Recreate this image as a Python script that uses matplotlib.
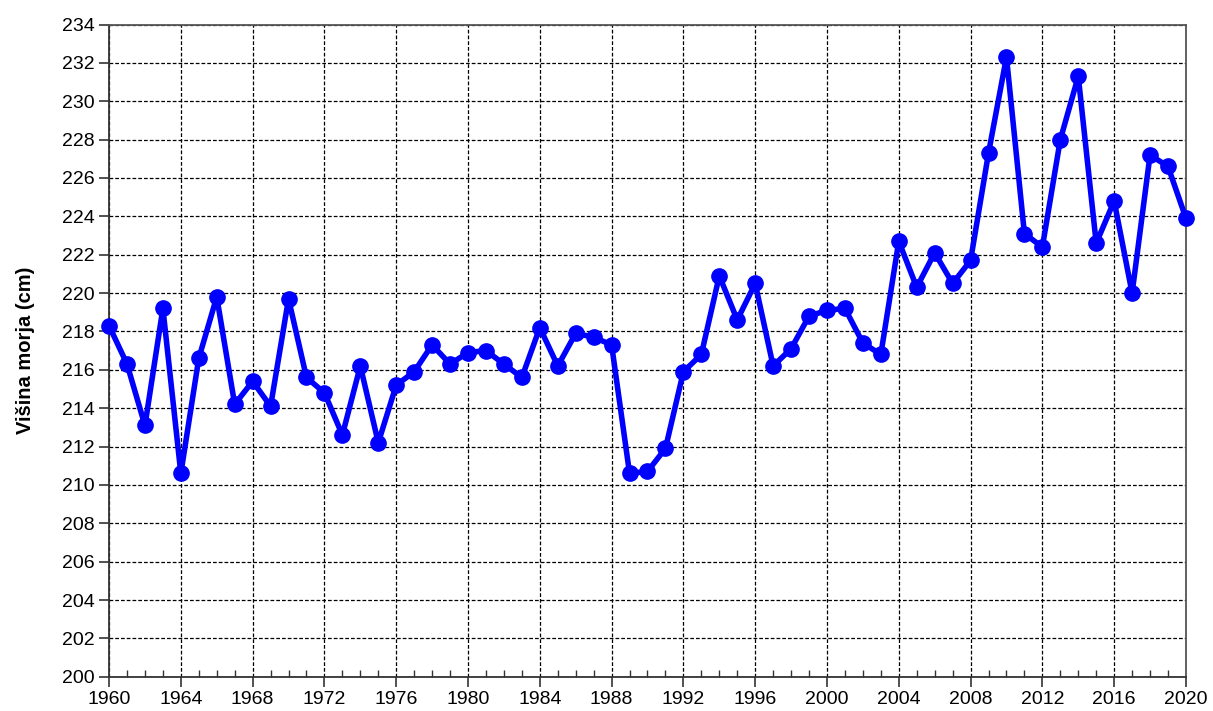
#!/usr/bin/env python

import numpy as np
from matplotlib import rcParams

rcParams['font.family'] = 'sans-serif'
rcParams['font.sans-serif'] = ['Liberation Sans', 'DejaVu Sans']

import matplotlib.pyplot as plt
from matplotlib.ticker import MultipleLocator

# letna srednja visina morja
years = list(range(1960, 2021))
level = [218.3, 216.3, 213.1, 219.2, 210.6, 216.6, 219.8, 214.2, 215.4, 214.1,
         219.7, 215.6, 214.8, 212.6, 216.2, 212.2, 215.2, 215.9, 217.3, 216.3,
         216.9, 217.0, 216.3, 215.6, 218.2, 216.2, 217.9, 217.7, 217.3, 210.6,
         210.7, 211.9, 215.9, 216.8, 220.9, 218.6, 220.5, 216.2, 217.1, 218.8,
         219.1, 219.2, 217.4, 216.8, 222.7, 220.3, 222.1, 220.5, 221.7, 227.3,
         232.3, 223.1, 222.4, 228.0, 231.3, 222.6, 224.8, 220.0, 227.2, 226.6,
         223.9]

ylabel = 'Višina morja (cm)'


def main():
    fig = plt.figure(figsize=(12.13, 7.11), dpi=100)
    ax = fig.add_axes([0.0899, 0.0482, 0.8878, 0.9173])

    ax.plot(years, level, color='#0000ff', linewidth=4, marker='o',
            markersize=11, zorder=3, clip_on=False)

    ax.set_xlim(1960, 2020)
    ax.set_ylim(200, 234)
    ax.xaxis.set_major_locator(MultipleLocator(4))
    ax.xaxis.set_minor_locator(MultipleLocator(1))
    ax.yaxis.set_major_locator(MultipleLocator(2))

    ax.grid(True, which='major', color='black', linewidth=0.9,
            linestyle=(0, (3, 1.6)))

    ax.tick_params(axis='both', which='major', labelsize=14,
                   length=7, width=1.2, color='#333333', direction='out')
    ax.tick_params(axis='x', which='minor', length=5, width=1.0,
                   color='#333333', direction='in')

    for s in ax.spines.values():
        s.set_color('#555555')
        s.set_linewidth(1.3)
    ax.spines['bottom'].set_color('#333333')
    ax.spines['left'].set_color('#333333')

    ax.set_ylabel(ylabel, fontsize=14.5, fontweight='bold', labelpad=19)

    fig.savefig('out.png', dpi=100)


if __name__ == '__main__':
    main()
